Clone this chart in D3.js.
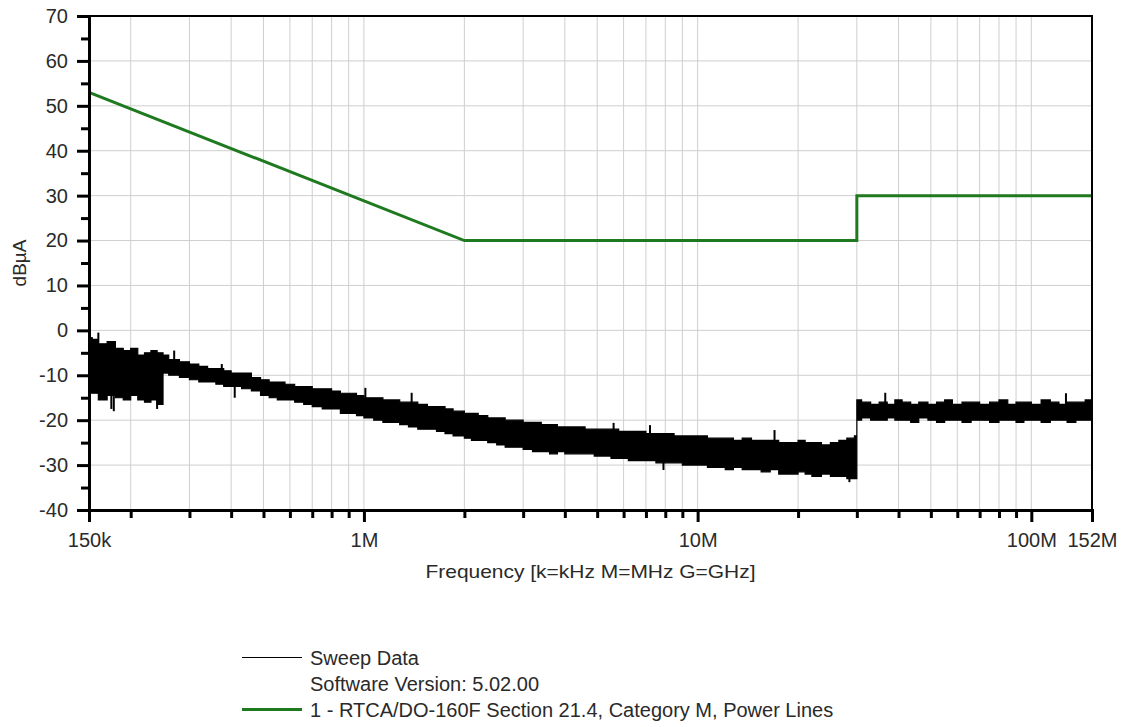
<!DOCTYPE html>
<html>
<head>
<meta charset="utf-8">
<script src="https://cdn.jsdelivr.net/npm/d3@7"></script>
<style>
  body { margin: 0; background: #fff; }
  text { font-family: "Liberation Sans", Arial, sans-serif; fill: #2a2a2a; }
</style>
</head>
<body>
<svg id="chart" width="1124" height="727"></svg>
<script>
// sweep data (MHz) - band top / bottom, dBuA
var sweepFreq = [0.15,0.16,0.17,0.18,0.19,0.20,0.21,0.22,0.23,0.24,
  0.25,0.26,0.28,0.30,0.32,0.34,0.36,0.38,0.40,0.43,
  0.46,0.49,0.52,0.55,0.58,0.62,0.66,0.70,0.75,0.80,
  0.85,0.90,0.95,1.0,1.07,1.14,1.21,1.28,1.36,1.45,
  1.55,1.65,1.75,1.85,2.0,2.1,2.2,2.35,2.5,2.65,
  2.8,3.0,3.2,3.4,3.6,3.8,4.0,4.3,4.6,4.9,
  5.2,5.5,5.8,6.2,6.6,7.0,7.5,8.0,8.5,9.0,
  9.5,10,10.7,11.4,12.1,12.8,13.6,14.5,15.5,16.5,
  17.5,18.5,20,21,22,23.5,25,26.5,28,29.5,
  30,31,33,35,37,39,41,43.5,46,49,
  52,55,58,62,66,70,75,80,85,90,
  95,100,107,114,121,128,136,145,152];

var sweepHi = [-2,-3,-2.5,-4,-4.5,-4,-5.5,-5,-4.5,-5,
  -5.5,-6.5,-7,-7.5,-8,-8.5,-8.5,-9,-9.5,-9.5,
  -10.5,-11,-11.5,-11.5,-12,-12.5,-12.5,-13,-13,-13.5,
  -14,-14,-14.5,-15,-15,-15.5,-15.5,-16,-16,-16.5,
  -17,-17,-17.5,-18,-18.5,-18.5,-19,-19.5,-19.5,-20,
  -20,-20.5,-20.5,-21,-21,-21.5,-21.5,-21.5,-22,-22,
  -22,-22,-22.5,-22.5,-22.5,-23,-23,-23,-23.5,-23.5,
  -23.5,-23.5,-24,-24,-24,-24.5,-24,-24.5,-24.5,-24.5,
  -25,-25,-24.5,-25,-25,-25.5,-25,-24.5,-24,-23.5,
  -15.5,-16,-16.5,-16,-16.5,-15.5,-16,-16.5,-16,-16.5,
  -16,-15.5,-16.5,-16,-16,-16.5,-16,-15.5,-16.5,-16,
  -16,-16.5,-15.5,-16,-16.5,-16,-16,-15.5,-17];

var sweepLo = [-14,-15.5,-14.5,-15,-15.5,-14.5,-15.5,-16,-15.5,-16.5,
  -9.5,-10,-10.5,-11,-11.5,-11.5,-12,-12.5,-12.5,-13,
  -13.5,-14.5,-15,-15.5,-15.5,-16,-16.5,-17,-17.5,-17.5,
  -18.5,-18.5,-19,-19.5,-20,-20.5,-20.5,-21,-21.5,-22,
  -22,-22.5,-23,-23.5,-24,-24.5,-24.5,-25,-25.5,-26,
  -26,-26.5,-27,-27,-27.5,-27,-27.5,-27.5,-27.5,-28,
  -28,-28.5,-28.5,-29,-29,-29,-29.5,-29.5,-29.5,-30,
  -30,-30,-30.5,-30.5,-31,-30.5,-31,-31,-31.5,-31,
  -32,-32,-31.5,-32,-32.5,-32,-32.5,-32.5,-33,-33,
  -20,-19.5,-20,-20,-19.5,-20,-20,-20.5,-19.5,-20,
  -20.5,-20,-20,-20.5,-20,-20,-20.5,-20,-20,-20.5,
  -20,-20,-20.5,-20,-20,-20.5,-20,-20,-22];

// single spikes sticking out of the band
var spikeFreq = [0.153,0.16,0.175,0.178,0.235,0.24,0.27,0.375,0.41,1.01,1.39,5.6,7.2,7.9,17,28.5,36.5,127,152];
var spikeVal = [-1.5,-0.5,-17.5,-18,-4.5,-17.5,-4.5,-7.5,-15,-12.8,-13.9,-20.6,-21.1,-31.1,-22.2,-33.8,-13.9,-14,-22.5];

// RTCA/DO-160F limit
var limitFreq = [0.15, 2, 30, 30, 152];
var limitVal = [53, 20, 20, 30, 30];

var xTickVals = [0.15, 1, 10, 100, 152];
var xTickLabels = ["150k", "1M", "10M", "100M", "152M"];
var yTickVals = [-40, -30, -20, -10, 0, 10, 20, 30, 40, 50, 60, 70];
var legendLabels = ["Sweep Data", "Software Version: 5.02.00", "1 - RTCA/DO-160F Section 21.4, Category M, Power Lines"];

var svg = d3.select("#chart");
var plotL = 89, plotR = 1092, plotT = 16, plotB = 510;

var x = d3.scaleLog().domain([0.15, 152]).range([plotL, plotR]);
var y = d3.scaleLinear().domain([-40, 70]).range([plotB, plotT]);

// minor frequency positions 200k..900k, 2M..9M etc
var xMinor = [];
[0.1, 1, 10].forEach(function(dec) {
  for (var m = 2; m <= 9; m++) xMinor.push(m * dec);
});
xMinor.push(1, 10, 100);
xMinor = xMinor.filter(function(d) { return d > 0.15 && d < 152; });

var yMinor = d3.range(-35, 70, 10);

// grid
var grid = svg.append("g");
grid.selectAll("line.v").data(xMinor).enter().append("line")
  .attr("x1", function(d) { return x(d); }).attr("x2", function(d) { return x(d); })
  .attr("y1", plotT).attr("y2", plotB)
  .attr("stroke", "#cfcfcf").attr("stroke-width", 1);
grid.selectAll("line.h").data(yTickVals.slice(1, -1)).enter().append("line")
  .attr("x1", plotL).attr("x2", plotR)
  .attr("y1", function(d) { return y(d); }).attr("y2", function(d) { return y(d); })
  .attr("stroke", "#cfcfcf").attr("stroke-width", 1);

// sweep band
var band = d3.area()
  .x(function(d, i) { return x(sweepFreq[i]); })
  .y0(function(d, i) { return y(sweepLo[i]); })
  .y1(function(d, i) { return y(sweepHi[i]); })
  .curve(d3.curveStepAfter);

svg.append("path")
  .datum(sweepFreq)
  .attr("d", band)
  .attr("fill", "#000")
  .attr("stroke", "#000")
  .attr("stroke-width", 1.2);

svg.selectAll("line.spike").data(spikeFreq).enter().append("line")
  .attr("x1", function(d) { return x(d); }).attr("x2", function(d) { return x(d); })
  .attr("y1", function(d) {
    var i = Math.max(0, d3.bisectRight(sweepFreq, d) - 1);
    return y((sweepHi[i] + sweepLo[i]) / 2);
  })
  .attr("y2", function(d, i) { return y(spikeVal[i]); })
  .attr("stroke", "#000").attr("stroke-width", 2);

// limit line
var limitLine = d3.line()
  .x(function(d, i) { return x(limitFreq[i]); })
  .y(function(d, i) { return y(limitVal[i]); });

svg.append("path")
  .datum(limitFreq)
  .attr("d", limitLine)
  .attr("fill", "none")
  .attr("stroke", "#1f7a1f")
  .attr("stroke-width", 3);

// frame
svg.append("rect")
  .attr("x", plotL).attr("y", plotT)
  .attr("width", plotR - plotL).attr("height", plotB - plotT)
  .attr("fill", "none").attr("stroke", "#000").attr("stroke-width", 2);

// axes
var yAxis = d3.axisLeft(y).tickValues(yTickVals).tickSize(12).tickPadding(9)
  .tickFormat(function(d) { return String(d); });
svg.append("g").attr("transform", "translate(" + plotL + ",0)").call(yAxis);
svg.append("g").attr("transform", "translate(" + plotL + ",0)")
  .call(d3.axisLeft(y).tickValues(yMinor).tickSize(8).tickFormat(""));

var xAxis = d3.axisBottom(x).tickValues(xTickVals)
  .tickFormat(function(d, i) { return xTickLabels[i]; })
  .tickSize(12).tickPadding(11);
svg.append("g").attr("transform", "translate(0," + plotB + ")").call(xAxis);
svg.append("g").attr("transform", "translate(0," + plotB + ")")
  .call(d3.axisBottom(x).tickValues(xMinor.filter(function(d) { return [1, 10, 100].indexOf(d) < 0; }))
    .tickSize(8).tickFormat(""));

svg.selectAll(".domain").attr("stroke", "#000").attr("stroke-width", 3);
svg.selectAll(".tick line").attr("stroke", "#000").attr("stroke-width", 3);
svg.selectAll(".tick text").style("font-size", "20px").attr("fill", "#2a2a2a")
  .style("font-family", "'Liberation Sans', Arial, sans-serif");

// axis titles
svg.append("text")
  .attr("x", (plotL + plotR) / 2).attr("y", 578)
  .attr("text-anchor", "middle")
  .attr("textLength", 330).attr("lengthAdjust", "spacingAndGlyphs")
  .style("font-size", "19px")
  .text("Frequency [k=kHz M=MHz G=GHz]");

svg.append("text")
  .attr("transform", "translate(26," + (plotT + plotB) / 2 + ") rotate(-90)")
  .attr("text-anchor", "middle")
  .style("font-size", "19px")
  .text("dBµA");

// legend
var legend = svg.append("g").attr("transform", "translate(242,657.5)");
legend.append("line").attr("x1", 0).attr("x2", 60).attr("y1", 0).attr("y2", 0)
  .attr("stroke", "#000").attr("stroke-width", 1);
legend.append("line").attr("x1", 0).attr("x2", 60).attr("y1", 52).attr("y2", 52)
  .attr("stroke", "#1f7a1f").attr("stroke-width", 3);
legend.selectAll("text").data(legendLabels).enter().append("text")
  .attr("x", 68)
  .attr("y", function(d, i) { return i * 26 + 7; })
  .style("font-size", "20px")
  .text(function(d) { return d; });
</script>
</body>
</html>
